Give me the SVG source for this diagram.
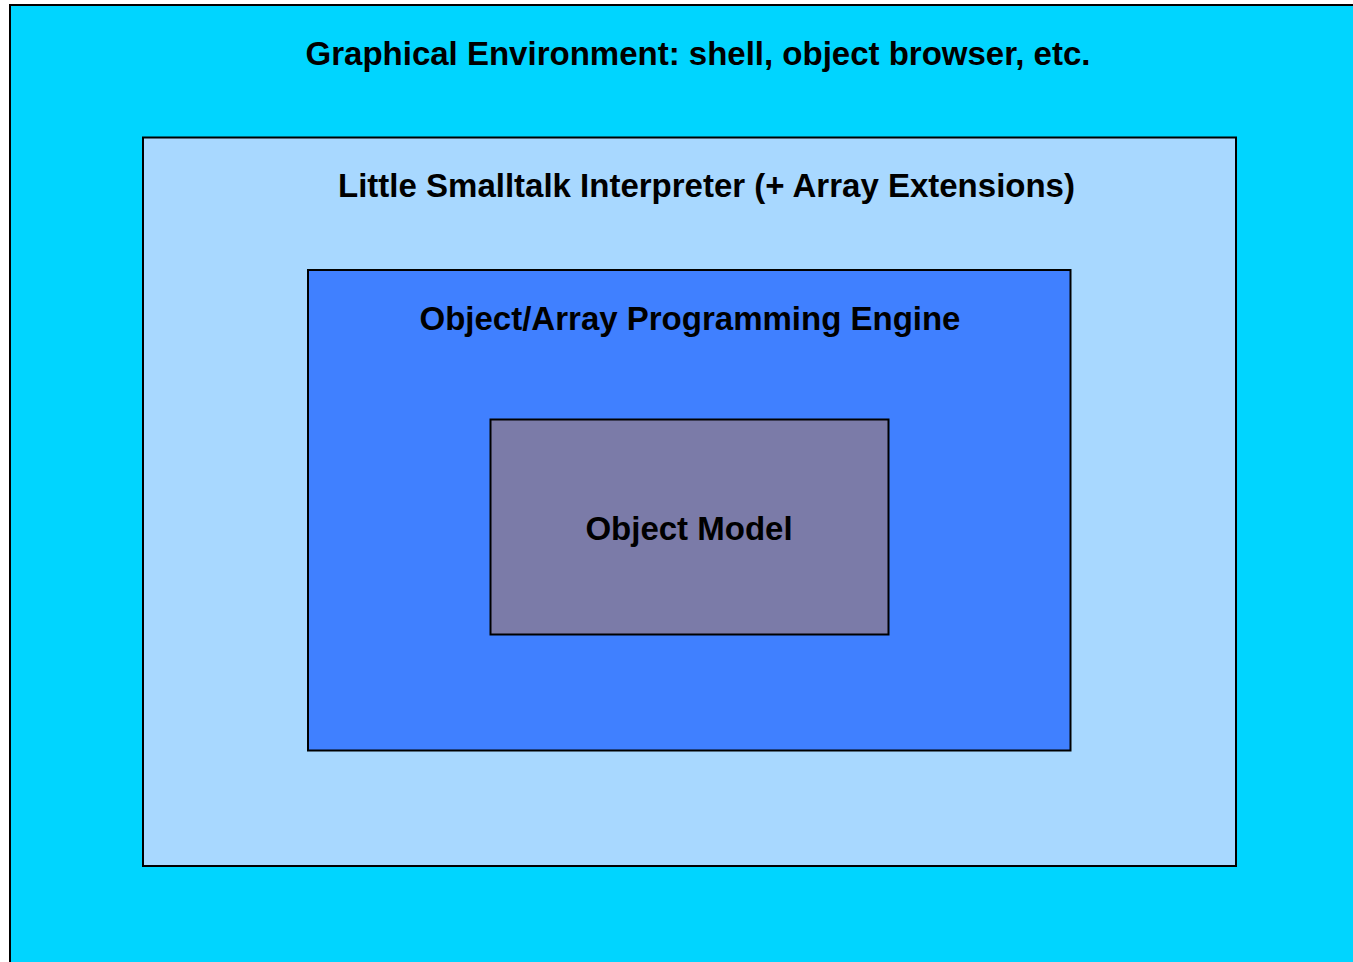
<svg xmlns="http://www.w3.org/2000/svg" width="1353" height="962" viewBox="0 0 1353 962">
<style>
.box{stroke:#000;stroke-width:2}
.lbl{font-family:"Liberation Sans",Arial,sans-serif;font-weight:bold;font-size:33px;fill:#000;text-anchor:middle}
</style>
<rect width="1353" height="962" fill="#fff"/>
<g id="graphical-environment">
<rect class="box" x="10" y="5" width="1360" height="970" fill="#00D5FF"/>
<text class="lbl" x="698" y="65">Graphical Environment: shell, object browser, etc.</text>
</g>
<g id="interpreter">
<rect class="box" x="143" y="137.5" width="1093" height="728.5" fill="#A8D8FF"/>
<text class="lbl" x="706.5" y="197">Little Smalltalk Interpreter (+ Array Extensions)</text>
</g>
<g id="engine">
<rect class="box" x="308" y="270" width="762.5" height="480.5" fill="#4080FF"/>
<text class="lbl" x="690" y="330">Object/Array Programming Engine</text>
</g>
<g id="object-model">
<rect class="box" x="490.5" y="419.5" width="398" height="215" fill="#7B7BA8"/>
<text class="lbl" x="689" y="540">Object Model</text>
</g>
<g id="connectors"></g>
</svg>
